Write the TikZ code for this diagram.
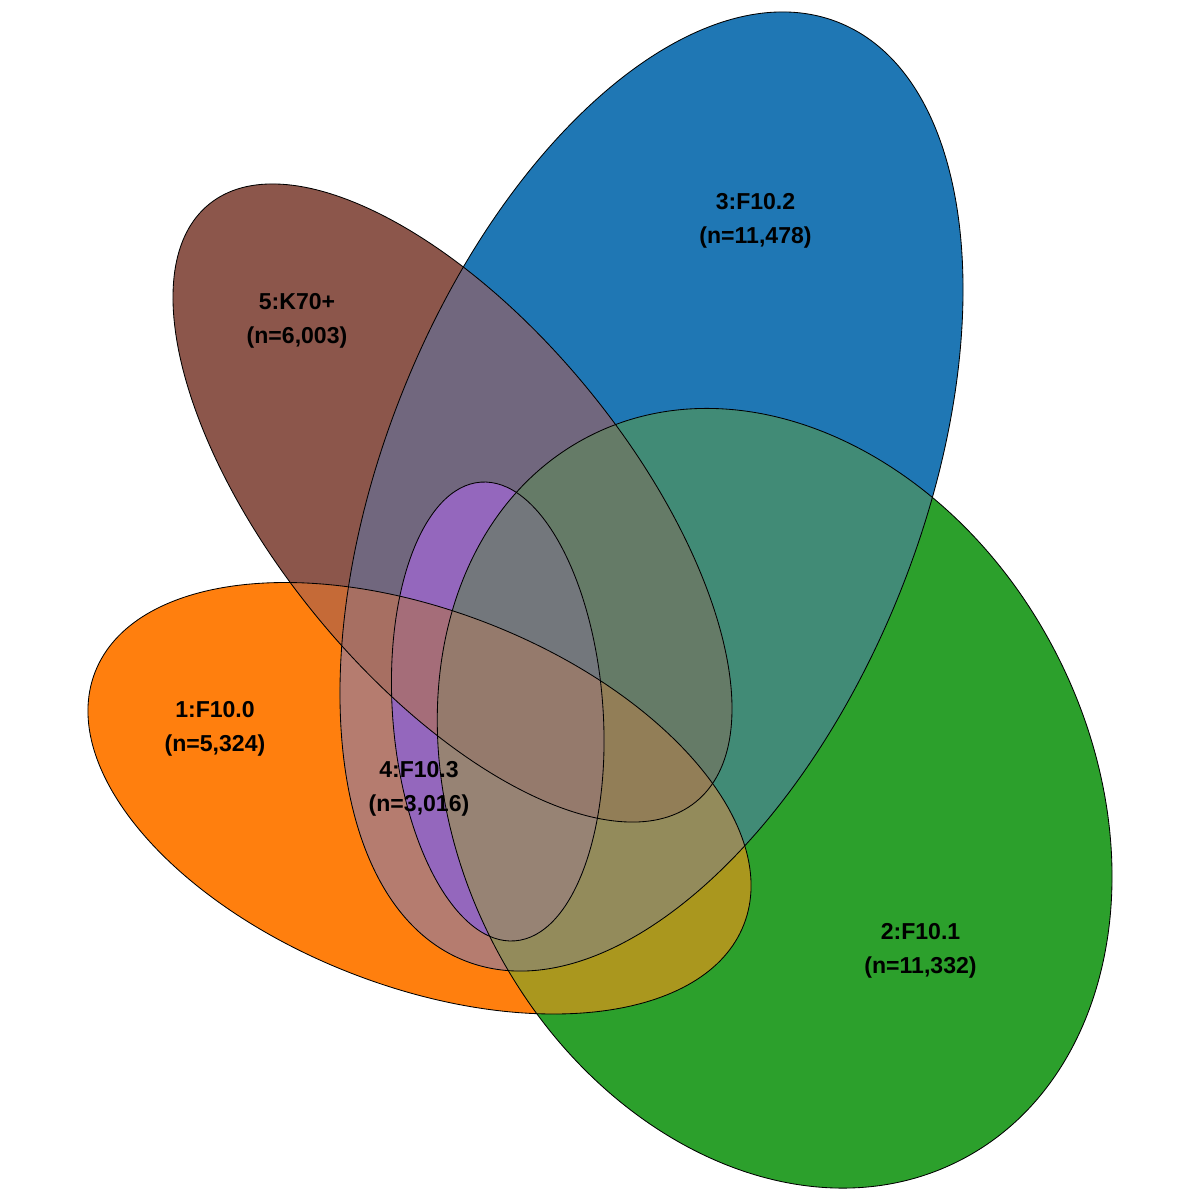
\documentclass[tikz,border=0pt]{standalone}
\usepackage{fontspec}
\setmainfont{Liberation Sans}
\makeatletter
% sRGB -> CIELab of a base colour
\newcommand\mylab[4]{%
  \edef\my@r{\fpeval{((#2/255+0.055)/1.055)^2.4}}%
  \edef\my@g{\fpeval{((#3/255+0.055)/1.055)^2.4}}%
  \edef\my@b{\fpeval{((#4/255+0.055)/1.055)^2.4}}%
  \edef\my@X{\fpeval{((0.4124*\my@r+0.3576*\my@g+0.1805*\my@b)/0.95047)^(1/3)}}%
  \edef\my@Y{\fpeval{(0.2126*\my@r+0.7152*\my@g+0.0722*\my@b)^(1/3)}}%
  \edef\my@Z{\fpeval{((0.0193*\my@r+0.1192*\my@g+0.9505*\my@b)/1.08883)^(1/3)}}%
  \expandafter\xdef\csname myL#1\endcsname{\fpeval{116*\my@Y-16}}%
  \expandafter\xdef\csname myA#1\endcsname{\fpeval{500*(\my@X-\my@Y)}}%
  \expandafter\xdef\csname myB#1\endcsname{\fpeval{200*(\my@Y-\my@Z)}}%
}
% mean of several base colours in Lab -> sRGB colour
\newcommand\mymix[2]{%
  \gdef\my@sL{0}\gdef\my@sA{0}\gdef\my@sB{0}\gdef\my@n{0}%
  \@for\my@k:=#2\do{%
    \xdef\my@sL{\fpeval{(\my@sL)+(\csname myL\my@k\endcsname)}}%
    \xdef\my@sA{\fpeval{(\my@sA)+(\csname myA\my@k\endcsname)}}%
    \xdef\my@sB{\fpeval{(\my@sB)+(\csname myB\my@k\endcsname)}}%
    \xdef\my@n{\fpeval{\my@n+1}}%
  }%
  \edef\my@fy{\fpeval{((\my@sL)/\my@n+16)/116}}%
  \edef\my@fx{\fpeval{(\my@fy)+(\my@sA)/\my@n/500}}%
  \edef\my@fz{\fpeval{(\my@fy)-(\my@sB)/\my@n/200}}%
  \edef\my@X{\fpeval{0.95047*(\my@fx)^3}}%
  \edef\my@Y{\fpeval{(\my@fy)^3}}%
  \edef\my@Z{\fpeval{1.08883*(\my@fz)^3}}%
  \edef\my@r{\fpeval{3.2406*(\my@X)-1.5372*(\my@Y)-0.4986*(\my@Z)}}%
  \edef\my@g{\fpeval{-0.9689*(\my@X)+1.8758*(\my@Y)+0.0415*(\my@Z)}}%
  \edef\my@b{\fpeval{0.0557*(\my@X)-0.2040*(\my@Y)+1.0570*(\my@Z)}}%
  \edef\my@r{\fpeval{min(1,max(0,1.055*(max(\my@r,0.000001))^(1/2.4)-0.055))}}%
  \edef\my@g{\fpeval{min(1,max(0,1.055*(max(\my@g,0.000001))^(1/2.4)-0.055))}}%
  \edef\my@b{\fpeval{min(1,max(0,1.055*(max(\my@b,0.000001))^(1/2.4)-0.055))}}%
  \edef\my@tmp{\noexpand\definecolor{#1}{rgb}{\my@r,\my@g,\my@b}}\my@tmp
}
\mylab{1}{255}{127}{14}
\mylab{2}{44}{160}{44}
\mylab{3}{31}{119}{180}
\mylab{4}{148}{103}{189}
\mylab{5}{140}{86}{75}
\definecolor{c1}{RGB}{255,127,14}
\definecolor{c2}{RGB}{44,160,44}
\definecolor{c3}{RGB}{31,119,180}
\definecolor{c4}{RGB}{148,103,189}
\definecolor{c5}{RGB}{140,86,75}
\mymix{c12}{1,2}\mymix{c13}{1,3}\mymix{c14}{1,4}\mymix{c15}{1,5}
\mymix{c23}{2,3}\mymix{c24}{2,4}\mymix{c25}{2,5}
\mymix{c34}{3,4}\mymix{c35}{3,5}\mymix{c45}{4,5}
\mymix{c123}{1,2,3}\mymix{c124}{1,2,4}\mymix{c125}{1,2,5}
\mymix{c135}{1,3,5}\mymix{c145}{1,4,5}
\mymix{c234}{2,3,4}\mymix{c235}{2,3,5}\mymix{c245}{2,4,5}
\mymix{c1234}{1,2,3,4}\mymix{c1235}{1,2,3,5}\mymix{c1245}{1,2,4,5}
\mymix{c1345}{1,3,4,5}\mymix{c2345}{2,3,4,5}
\mymix{c12345}{1,2,3,4,5}
% these two regions are shown in plain purple in the reference
\definecolor{c134}{RGB}{148,103,189}
\definecolor{c345}{RGB}{148,103,189}
% ellipse geometry (pixel coordinates, y downwards)
\tikzset{
  E1/.style={shift={(419.5,798.25)},rotate=-21.24},
  E2/.style={shift={(774.65,798.25)},rotate=-62.86},
  E3/.style={shift={(651.5,491.5)},rotate=68.26},
  E4/.style={shift={(497.75,711.5)},rotate=-85.74},
  E5/.style={shift={(452.5,503)},rotate=-50.82},
  outl/.style={draw=black,line width=0.6pt},
  lbl/.style={font=\bfseries\fontsize{16.4}{24.2}\selectfont,align=center,text=black,inner sep=0pt}
}
\expandafter\def\csname myclip1\endcsname{\clip[E1] (0,0) ellipse [x radius=348.1, y radius=187.8];}
\expandafter\def\csname myclip2\endcsname{\clip[E2] (0,0) ellipse [x radius=406.8, y radius=316.6];}
\expandafter\def\csname myclip3\endcsname{\clip[E3] (0,0) ellipse [x radius=505.0, y radius=268.2];}
\expandafter\def\csname myclip4\endcsname{\clip[E4] (0,0) ellipse [x radius=230.0, y radius=105.2];}
\expandafter\def\csname myclip5\endcsname{\clip[E5] (0,0) ellipse [x radius=385.4, y radius=177.0];}
\newcommand\reg[2]{%
  \begin{scope}%
    \@for\my@k:=#2\do{\csname myclip\my@k\endcsname}%
    \fill[#1] (0,0) rectangle (1200,1200);%
  \end{scope}}
\makeatother
\begin{document}
\begin{tikzpicture}[x=0.25mm,y=-0.25mm]
\useasboundingbox (0,0) rectangle (1200,1200);
\fill[white] (0,0) rectangle (1200,1200);
% regions, smallest subsets first so that larger intersections overwrite
\reg{c1}{1}\reg{c2}{2}\reg{c3}{3}\reg{c4}{4}\reg{c5}{5}
\reg{c12}{1,2}\reg{c13}{1,3}\reg{c14}{1,4}\reg{c15}{1,5}
\reg{c23}{2,3}\reg{c24}{2,4}\reg{c25}{2,5}
\reg{c34}{3,4}\reg{c35}{3,5}\reg{c45}{4,5}
\reg{c123}{1,2,3}\reg{c124}{1,2,4}\reg{c125}{1,2,5}
\reg{c134}{1,3,4}\reg{c135}{1,3,5}\reg{c145}{1,4,5}
\reg{c234}{2,3,4}\reg{c235}{2,3,5}\reg{c245}{2,4,5}
\reg{c345}{3,4,5}
\reg{c1234}{1,2,3,4}\reg{c1235}{1,2,3,5}\reg{c1245}{1,2,4,5}
\reg{c1345}{1,3,4,5}\reg{c2345}{2,3,4,5}
\reg{c12345}{1,2,3,4,5}
% outlines
\draw[outl,E1] (0,0) ellipse [x radius=348.1, y radius=187.8];
\draw[outl,E2] (0,0) ellipse [x radius=406.8, y radius=316.6];
\draw[outl,E3] (0,0) ellipse [x radius=505.0, y radius=268.2];
\draw[outl,E4] (0,0) ellipse [x radius=230.0, y radius=105.2];
\draw[outl,E5] (0,0) ellipse [x radius=385.4, y radius=177.0];
% labels
\node[lbl] (l1) at (215,728.5) {1:F10.0\\(n=5,324)};
\node[lbl] (l2) at (920.5,950.4) {2:F10.1\\(n=11,332)};
\node[lbl] (l3) at (755.5,221) {3:F10.2\\(n=11,478)};
\node[lbl] (l4) at (419,789) {4:F10.3\\(n=3,016)};
\node[lbl] (l5) at (297,320.5) {5:K70+\\(n=6,003)};
\end{tikzpicture}
\end{document}
